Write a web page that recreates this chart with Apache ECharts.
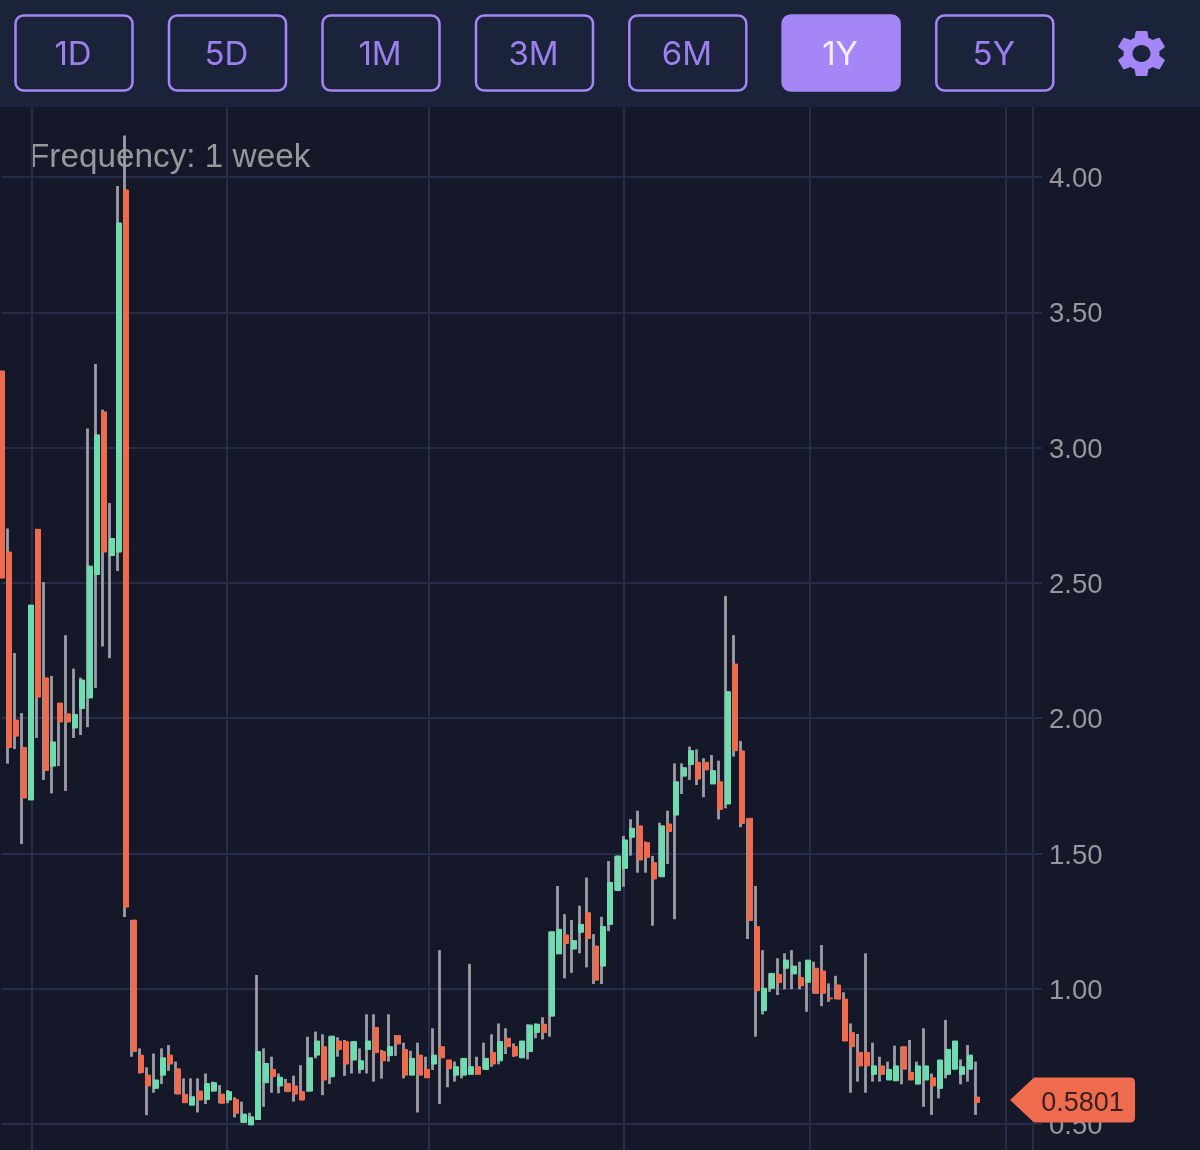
<!DOCTYPE html>
<html>
<head>
<meta charset="utf-8">
<style>html,body{margin:0;padding:0;background:#141828}#chart{width:1200px;height:1150px}</style>
<script src="https://cdn.jsdelivr.net/npm/echarts@6/dist/echarts.min.js"></script>
</head>
<body>
<div id="chart"></div>
<script>
const rangeLabels = ['1D','5D','1M','3M','6M','1Y','5Y'];
const activeRange = '1Y';
const frequencyLabel = 'Frequency: 1 week';
const priceTicks = [0.5,1,1.5,2,2.5,3,3.5,4];
const lastPrice = 0.5801;
const timeGridWeeks = [4.15,30.74,58.28,84.88,110.24,136.97];
const opens = [
3.283,2.614,1.993,1.892,1.698,2.698,2.149,1.823,2.056,2.016,
1.964,2.036,2.075,2.531,3.132,2.601,2.614,3.952,1.254,.755,
.681,.632,.681,.755,.704,.610,.570,.622,.591,.622,
.611,.589,.591,.506,.497,.517,.653,.702,.641,.650,
.641,.620,.622,.755,.786,.675,.807,.805,.737,.702,
.776,.857,.768,.753,.827,.776,.681,.755,.702,.722,
.786,.737,.681,.681,.684,.712,.702,.764,.734,.817,
.786,.745,.768,.839,.869,.899,1.129,1.199,1.147,1.209,
1.281,1.158,1.084,1.238,1.363,1.445,1.560,1.602,1.540,1.466,
1.414,1.609,1.642,1.786,1.829,1.837,1.837,1.757,1.765,1.683,
2.200,1.879,1.630,1.230,.919,1.002,1.053,1.076,1.055,1.042,
1.024,1.076,1.066,.966,1.014,.962,.838,.765,.765,.684,
.715,.663,.660,.786,.691,.648,.663,.671,.632,.684,
.703,.684,.703,.600];
const closes = [
2.518,1.892,1.934,1.705,2.418,2.078,1.807,1.912,1.986,1.986,
2.014,2.141,2.562,3.047,2.614,2.664,3.830,1.302,.768,.690,
.641,.663,.745,.722,.611,.579,.601,.589,.650,.653,
.577,.620,.540,.537,.527,.768,.724,.675,.673,.620,
.611,.589,.745,.807,.663,.825,.776,.722,.805,.734,
.807,.764,.734,.786,.796,.681,.743,.681,.671,.755,
.745,.704,.712,.743,.712,.684,.743,.722,.805,.786,
.752,.807,.866,.869,.838,1.211,1.220,1.168,1.178,1.238,
1.186,1.032,1.230,1.393,1.491,1.550,1.593,1.476,1.486,1.406,
1.602,1.581,1.765,1.817,1.880,1.775,1.809,1.806,1.663,2.098,
1.880,1.611,1.252,.993,1.002,1.057,1.023,1.106,1.084,1.011,
1.106,.983,.983,.963,.962,.807,.786,.715,.715,.715,
.684,.702,.715,.703,.663,.715,.715,.641,.737,.776,
.807,.712,.755,.5801];
const highs = [
3.283,2.701,2.241,2.019,2.418,2.698,2.503,2.156,2.056,2.307,
2.183,2.150,3.071,3.309,3.140,2.795,3.967,4.153,1.254,.780,
.710,.761,.780,.792,.731,.669,.669,.669,.687,.657,
.644,.626,.599,.583,.542,1.051,.780,.749,.687,.667,
.679,.718,.823,.842,.832,.825,.821,.811,.805,.780,
.906,.906,.774,.906,.829,.801,.771,.801,.749,.854,
1.143,.737,.731,.743,1.092,.749,.801,.832,.872,.854,
.798,.807,.869,.872,.895,1.211,1.380,1.276,1.254,1.307,
1.411,1.202,1.266,1.472,1.491,1.565,1.627,1.658,1.544,1.491,
1.614,1.658,1.833,1.833,1.895,1.885,1.852,1.864,1.843,2.452,
2.307,1.916,1.630,1.380,1.143,1.057,1.113,1.131,1.143,1.100,
1.106,1.100,1.162,1.020,1.048,.987,.872,.833,1.131,.801,
.749,.731,.790,.786,.811,.731,.854,.687,.737,.885,
.807,.739,.792,.731];
const lows = [
2.518,1.832,1.886,1.535,1.698,1.927,1.772,1.722,1.823,1.731,
1.927,1.938,1.967,2.112,2.265,2.222,2.544,1.265,.749,.687,
.533,.616,.648,.697,.611,.579,.570,.543,.574,.620,
.577,.577,.525,.506,.497,.515,.564,.616,.614,.620,
.583,.589,.620,.743,.607,.648,.749,.678,.687,.687,
.687,.657,.668,.731,.752,.669,.681,.543,.671,.700,
.574,.636,.657,.669,.684,.684,.702,.712,.721,.759,
.749,.745,.739,.817,.813,.823,1.129,1.039,1.059,1.131,
1.079,1.018,1.018,1.213,1.363,1.377,1.492,1.429,1.429,1.233,
1.414,1.461,1.257,1.720,1.772,1.753,1.708,1.757,1.626,1.667,
1.858,1.597,1.184,.823,.905,.989,.977,.998,.998,.998,
.915,.983,.936,.952,.962,.807,.616,.657,.616,.657,
.657,.663,.659,.647,.663,.647,.564,.534,.595,.669,
.703,.647,.657,.534];

const GREEN='#6edcae', RED='#ee6c4d', WICK='#9d9da6', GRID='#262c4a', LABEL='#96989d', PURPLE='#a586f6';
const categories = Array.from({length:142},(_,i)=>'W'+(i+1));
const wickData = opens.map((o,i)=>[o,closes[i],lows[i],highs[i]]);
const bodyData = opens.map((o,i)=>[o,closes[i],Math.min(o,closes[i]),Math.max(o,closes[i])]);

const gearSvg = '<svg xmlns="http://www.w3.org/2000/svg" viewBox="2.6 2 18.8 20" width="188" height="200"><path fill="'+PURPLE+'" d="M19.14 12.94c.04-.3.06-.61.06-.94 0-.32-.02-.64-.07-.94l2.03-1.58c.18-.14.23-.41.12-.61l-1.92-3.32c-.12-.22-.37-.29-.59-.22l-2.39.96c-.5-.38-1.03-.7-1.62-.94l-.36-2.54c-.04-.24-.24-.41-.48-.41h-3.84c-.24 0-.43.17-.47.41l-.36 2.54c-.59.24-1.13.57-1.62.94l-2.39-.96c-.22-.08-.47 0-.59.22L2.74 8.87c-.12.21-.08.47.12.61l2.03 1.58c-.05.3-.09.63-.09.94s.02.64.07.94l-2.03 1.58c-.18.14-.23.41-.12.61l1.92 3.32c.12.22.37.29.59.22l2.39-.96c.5.38 1.03.7 1.62.94l.36 2.54c.05.24.24.41.48.41h3.84c.24 0 .44-.17.47-.41l.36-2.54c.59-.24 1.13-.56 1.62-.94l2.39.96c.22.08.47 0 .59-.22l1.92-3.32c.12-.22.07-.47-.12-.61l-2.01-1.58zM12 15.6c-1.98 0-3.6-1.62-3.6-3.6s1.62-3.6 3.6-3.6 3.6 1.62 3.6 3.6-1.62 3.6-3.6 3.6z"/></svg>';

const btnX = [15.5,169,322.5,476,629.3,782.6,936.3];
const graphic = [
  {type:'rect',silent:true,shape:{x:0,y:0,width:1200,height:107},style:{fill:'#1b233b'}},
  {type:'text',silent:true,style:{text:frequencyLabel,x:29,y:158,fill:'#97989c',font:'33.3px "Liberation Sans"',textAlign:'left',textVerticalAlign:'middle'}},
  {type:'image',silent:true,style:{image:'data:image/svg+xml;charset=utf-8,'+encodeURIComponent(gearSvg),x:1118,y:30,width:47,height:47}}
];
rangeLabels.forEach((t,i)=>{
  const on = t===activeRange;
  graphic.push({type:'rect',silent:true,shape:{x:btnX[i],y:15.5,width:117,height:75,r:8},
    style:{fill:on?PURPLE:'transparent',stroke:PURPLE,lineWidth:2.5}});
  graphic.push({type:'text',silent:true,style:{text:t,x:btnX[i]+57.5,y:55,fill:on?'#f4effe':'#9b80ee',font:'33px Inter',textAlign:'center',textVerticalAlign:'middle'}});
});

const yBase = {type:'value',min:0.4043,max:4.2587};
const option = {
  backgroundColor:'#141828',
  animation:false,
  graphic,
  grid:[
    {left:0,top:107,width:1034,height:1043},
    {left:1.6,top:107,width:1034,height:1043}
  ],
  xAxis:[
    {type:'category',gridIndex:0,data:categories,boundaryGap:false,show:false},
    {type:'category',gridIndex:1,data:categories,boundaryGap:false,show:false},
    {type:'value',gridIndex:1,min:0,max:141,axisLine:{show:false},axisLabel:{show:false},
      axisTick:{show:false,customValues:timeGridWeeks},
      splitLine:{show:true,lineStyle:{color:GRID,width:2}}}
  ],
  yAxis:[
    Object.assign({},yBase,{gridIndex:0,show:false,splitLine:{show:false}}),
    Object.assign({},yBase,{gridIndex:1,position:'right',offset:-2.6,
      axisLine:{show:true,onZero:false,lineStyle:{color:GRID,width:2}},
      axisTick:{show:true,length:9,customValues:priceTicks,lineStyle:{color:GRID,width:2}},
      axisLabel:{customValues:priceTicks,margin:16,formatter:v=>'{a|'+v.toFixed(2)+'}',
        rich:{a:{color:LABEL,fontSize:27.5,fontFamily:'Liberation Sans',padding:[5,0,0,0]}}},
      splitLine:{show:true,lineStyle:{color:GRID,width:2}}})
  ],
  series:[
    {type:'candlestick',name:'wick',xAxisIndex:0,yAxisIndex:0,data:wickData,barWidth:0.5,barMinWidth:0.5,silent:true,
      itemStyle:{color:WICK,color0:WICK,borderColor:WICK,borderColor0:WICK,borderWidth:2.8}},
    {type:'candlestick',name:'body',xAxisIndex:1,yAxisIndex:1,data:bodyData,barWidth:5.5,silent:true,
      itemStyle:{color:GREEN,color0:RED,borderColor:GREEN,borderColor0:RED,borderWidth:1},
      markPoint:{silent:true,animation:false,
        data:[{coord:[opens.length-1,lastPrice],
          symbol:'path://M0 22.5 L24 0 H120 Q125 0 125 5 V40 Q125 45 120 45 H24 Z',
          symbolSize:[125,45],symbolKeepAspect:false,symbolOffset:[95.6,-2.5],
          itemStyle:{color:RED},
          label:{show:true,position:'inside',offset:[10,4],formatter:lastPrice.toFixed(4),color:'#3a2024',fontSize:27,fontFamily:'Liberation Sans'}
        }]}
    }
  ]
};
const chart = echarts.init(document.getElementById('chart'),null,{renderer:'canvas',width:1200,height:1150});
chart.setOption(option);
</script>
</body>
</html>
